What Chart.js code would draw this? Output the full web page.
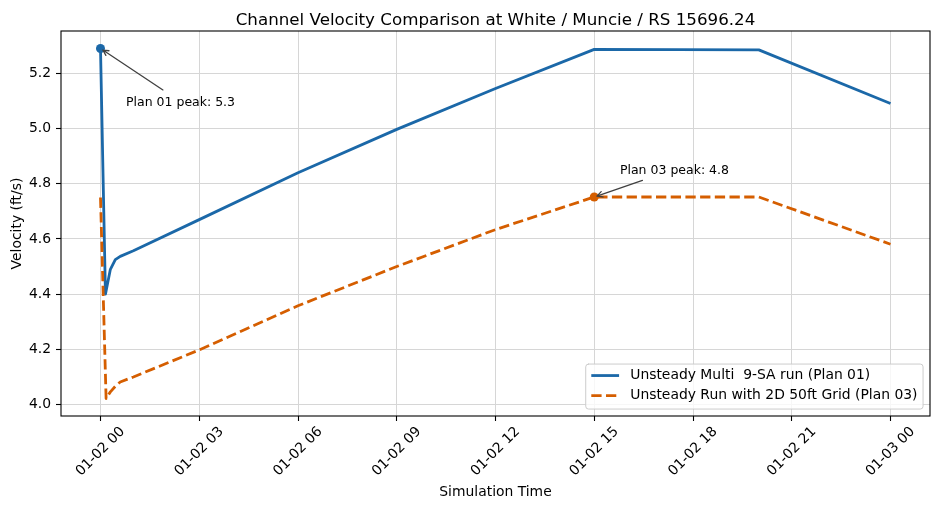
<!DOCTYPE html>
<html>
<head>
<meta charset="utf-8">
<script src="https://cdn.jsdelivr.net/npm/chart.js@4.4.1/dist/chart.umd.min.js"></script>
<style>
  html, body { margin: 0; padding: 0; background: #ffffff; }
  #wrap { width: 939px; height: 509px; position: relative; }
  canvas { display: block; }
</style>
</head>
<body>
<div id="wrap"><canvas id="chart" width="939" height="509"></canvas></div>
<script>
// ---------------- DATA ----------------
const plan01Hours    = [0, 0.15, 0.3, 0.45, 0.6, 1, 3, 6, 9, 12, 15, 20, 24];
const plan01Velocity = [5.290, 4.400, 4.490, 4.525, 4.537, 4.557, 4.670, 4.840, 4.997, 5.145, 5.287, 5.285, 5.091];
const plan03Hours    = [0, 0.17, 0.3, 0.45, 0.6, 1, 3, 6, 9, 12, 15, 20, 24];
const plan03Velocity = [4.750, 4.022, 4.046, 4.066, 4.082, 4.100, 4.198, 4.358, 4.500, 4.634, 4.752, 4.752, 4.581];
const seriesLabels   = ["Unsteady Multi  9-SA run (Plan 01)", "Unsteady Run with 2D 50ft Grid (Plan 03)"];
const peakPrefixes   = ["Plan 01 peak: ", "Plan 03 peak: "];
const xTickHours     = [0, 3, 6, 9, 12, 15, 18, 21, 24];
const xTickLabels    = ["01-02 00", "01-02 03", "01-02 06", "01-02 09", "01-02 12", "01-02 15", "01-02 18", "01-02 21", "01-03 00"];
const yTickValues    = [4.0, 4.2, 4.4, 4.6, 4.8, 5.0, 5.2];
const titleText      = "Channel Velocity Comparison at White / Muncie / RS 15696.24";
const xAxisLabel     = "Simulation Time";
const yAxisLabel     = "Velocity (ft/s)";

// ---------------- STYLE ----------------
const FONT = "'DejaVu Sans', 'Liberation Sans', sans-serif";
const BLUE = "#1b68a8";
const ORANGE = "#d55e00";
const LW = 2.8;
const DASH = [10.3, 4.4];

function toXY(hours, vals) { return hours.map((h, i) => ({ x: h, y: vals[i] })); }
function argMax(arr) { let k = 0; arr.forEach((v, i) => { if (v > arr[k]) k = i; }); return k; }

const p1 = argMax(plan01Velocity);
const p3 = argMax(plan03Velocity);

// matplotlib-like 5% margins
const allX = plan01Hours.concat(plan03Hours);
const allY = plan01Velocity.concat(plan03Velocity);
const xMinD = Math.min(...allX), xMaxD = Math.max(...allX);
const yMinD = Math.min(...allY), yMaxD = Math.max(...allY);
const xPad = (xMaxD - xMinD) * 0.05, yPad = (yMaxD - yMinD) * 0.05;

const decor = {
  id: 'decor',
  beforeDraw(chart) {
    const c = chart.ctx;
    c.save();
    c.fillStyle = '#ffffff';
    c.fillRect(0, 0, chart.width, chart.height);
    c.restore();
  },
  afterDraw(chart) {
    const c = chart.ctx;
    const a = chart.chartArea;
    const xs = chart.scales.x, ys = chart.scales.y;
    c.save();

    // spines
    c.strokeStyle = '#000';
    c.lineWidth = 1.1;
    c.strokeRect(a.left, a.top, a.right - a.left, a.bottom - a.top);

    // title
    c.fillStyle = '#000';
    c.font = `16.7px ${FONT}`;
    c.textAlign = 'center';
    c.textBaseline = 'alphabetic';
    c.fillText(titleText, (a.left + a.right) / 2, 25);

    // x tick labels (rotated 45, centred on tick)
    c.font = `13.9px ${FONT}`;
    c.textAlign = 'center';
    c.textBaseline = 'middle';
    xTickHours.forEach((h, i) => {
      const px = xs.getPixelForValue(h);
      c.save();
      c.translate(px, a.bottom + 35.5);
      c.rotate(-Math.PI / 4);
      c.fillText(xTickLabels[i], 0, 0);
      c.restore();
    });

    // axis labels
    c.fillText(xAxisLabel, (a.left + a.right) / 2, 492);
    c.save();
    c.translate(17, (a.top + a.bottom) / 2);
    c.rotate(-Math.PI / 2);
    c.fillText(yAxisLabel, 0, 0);
    c.restore();

    // annotations
    const drawAnn = (px, py, text, dx, dy) => {
      const fs = 12.5;
      c.font = `${fs}px ${FONT}`;
      const w = c.measureText(text).width;
      const asc = fs * 0.93, desc = fs * 0.24;
      const tx = px + dx, ty = py + dy;
      c.fillStyle = '#000';
      c.textAlign = 'left';
      c.textBaseline = 'alphabetic';
      c.fillText(text, tx, ty);
      const pad = 2.8;
      const bx0 = tx - pad, bx1 = tx + w + pad, by0 = ty - asc - pad, by1 = ty + desc + pad;
      const cx = tx + w / 2, cy = ty - (asc - desc) / 2;
      const vx = px - cx, vy = py - cy;
      let t = Infinity;
      if (vx !== 0) t = Math.min(t, ((vx > 0 ? bx1 : bx0) - cx) / vx);
      if (vy !== 0) t = Math.min(t, ((vy > 0 ? by1 : by0) - cy) / vy);
      let sx = cx + vx * t, sy = cy + vy * t;
      const len = Math.hypot(px - sx, py - sy);
      const ux = (px - sx) / len, uy = (py - sy) / len;
      const shrink = 2.8;
      sx += ux * shrink; sy += uy * shrink;
      const ex = px - ux * shrink, ey = py - uy * shrink;
      c.strokeStyle = '#404040';
      c.lineWidth = 1.3;
      c.lineCap = 'round';
      c.lineJoin = 'round';
      c.beginPath();
      c.moveTo(sx, sy);
      c.lineTo(ex, ey);
      const hl = 5.5, hw = 2.8;
      const hx = ex - ux * hl, hy = ey - uy * hl;
      c.moveTo(hx - uy * hw, hy + ux * hw);
      c.lineTo(ex, ey);
      c.lineTo(hx + uy * hw, hy - ux * hw);
      c.stroke();
    };
    const a1x = xs.getPixelForValue(plan01Hours[p1]), a1y = ys.getPixelForValue(plan01Velocity[p1]);
    const a3x = xs.getPixelForValue(plan03Hours[p3]), a3y = ys.getPixelForValue(plan03Velocity[p3]);
    drawAnn(a1x, a1y, peakPrefixes[0] + plan01Velocity[p1].toFixed(1), 25.5, 57.4);
    drawAnn(a3x, a3y, peakPrefixes[1] + plan03Velocity[p3].toFixed(1), 25.7, -23.3);

    // legend
    const lfs = 13.9;
    c.font = `${lfs}px ${FONT}`;
    const tw = Math.max(...seriesLabels.map(s => c.measureText(s).width));
    const bpad = 0.4 * lfs, hlen = 2.0 * lfs, htp = 0.8 * lfs;
    const boxW = bpad * 2 + hlen + htp + tw;
    const boxH = 45;
    const bxR = a.right - 6.95, byB = a.bottom - 6.95;
    const bxL = bxR - boxW, byT = byB - boxH;
    c.beginPath();
    const r = 2.8;
    c.moveTo(bxL + r, byT);
    c.lineTo(bxR - r, byT); c.quadraticCurveTo(bxR, byT, bxR, byT + r);
    c.lineTo(bxR, byB - r); c.quadraticCurveTo(bxR, byB, bxR - r, byB);
    c.lineTo(bxL + r, byB); c.quadraticCurveTo(bxL, byB, bxL, byB - r);
    c.lineTo(bxL, byT + r); c.quadraticCurveTo(bxL, byT, bxL + r, byT);
    c.closePath();
    c.fillStyle = 'rgba(255,255,255,0.8)';
    c.fill();
    c.strokeStyle = '#cccccc';
    c.lineWidth = 1;
    c.stroke();
    const rowsY = [byT + 11.5, byT + 31.5];
    const legendDs = chart.data.datasets.filter(d => !d.isMarker);
    legendDs.forEach((d, i) => {
      const y = rowsY[i];
      c.strokeStyle = d.borderColor;
      c.lineWidth = LW;
      c.lineCap = 'butt';
      c.setLineDash(d.borderDash || []);
      c.beginPath();
      c.moveTo(bxL + bpad, y);
      c.lineTo(bxL + bpad + hlen, y);
      c.stroke();
      c.setLineDash([]);
      c.fillStyle = '#000';
      c.textAlign = 'left';
      c.textBaseline = 'middle';
      c.fillText(d.label, bxL + bpad + hlen + htp, y);
    });

    c.restore();
  }
};

new Chart(document.getElementById('chart'), {
  type: 'line',
  data: {
    datasets: [
      { label: 'peak01', isMarker: true, type: 'scatter', order: 0,
        data: [{ x: plan01Hours[p1], y: plan01Velocity[p1] }],
        pointRadius: 4.5, pointBackgroundColor: BLUE, pointBorderWidth: 0, showLine: false },
      { label: 'peak03', isMarker: true, type: 'scatter', order: 0,
        data: [{ x: plan03Hours[p3], y: plan03Velocity[p3] }],
        pointRadius: 4.5, pointBackgroundColor: ORANGE, pointBorderWidth: 0, showLine: false },
      { label: seriesLabels[0], order: 2, data: toXY(plan01Hours, plan01Velocity),
        borderColor: BLUE, backgroundColor: BLUE, borderWidth: LW, pointRadius: 0,
        tension: 0, fill: false, borderJoinStyle: 'round', borderCapStyle: 'butt' },
      { label: seriesLabels[1], order: 1, data: toXY(plan03Hours, plan03Velocity),
        borderColor: ORANGE, backgroundColor: ORANGE, borderWidth: LW, pointRadius: 0,
        borderDash: DASH, tension: 0, fill: false, borderJoinStyle: 'round', borderCapStyle: 'butt' }
    ]
  },
  options: {
    responsive: false,
    animation: false,
    devicePixelRatio: 1,
    layout: { padding: { top: 31, right: 9, left: 0, bottom: 0 }, autoPadding: false },
    plugins: { legend: { display: false }, title: { display: false }, tooltip: { enabled: false } },
    scales: {
      x: {
        type: 'linear', position: 'bottom',
        min: xMinD - xPad, max: xMaxD + xPad,
        afterBuildTicks: s => { s.ticks = xTickHours.map(v => ({ value: v })); },
        afterFit: s => { s.height = 93; },
        ticks: { display: false },
        grid: { color: '#d6d6d6', lineWidth: 1, drawTicks: true, tickLength: 5, tickColor: '#000', tickWidth: 1.1 },
        border: { display: false }
      },
      y: {
        type: 'linear', position: 'left',
        min: yMinD - yPad, max: yMaxD + yPad,
        afterBuildTicks: s => { s.ticks = yTickValues.map(v => ({ value: v })); },
        afterFit: s => { s.width = 61; },
        ticks: { color: '#000', font: { family: FONT, size: 13.9 }, padding: 5,
                 callback: v => Number(v).toFixed(1) },
        grid: { color: '#d6d6d6', lineWidth: 1, drawTicks: true, tickLength: 5, tickColor: '#000', tickWidth: 1.1 },
        border: { display: false }
      }
    }
  },
  plugins: [decor]
});
</script>
</body>
</html>
